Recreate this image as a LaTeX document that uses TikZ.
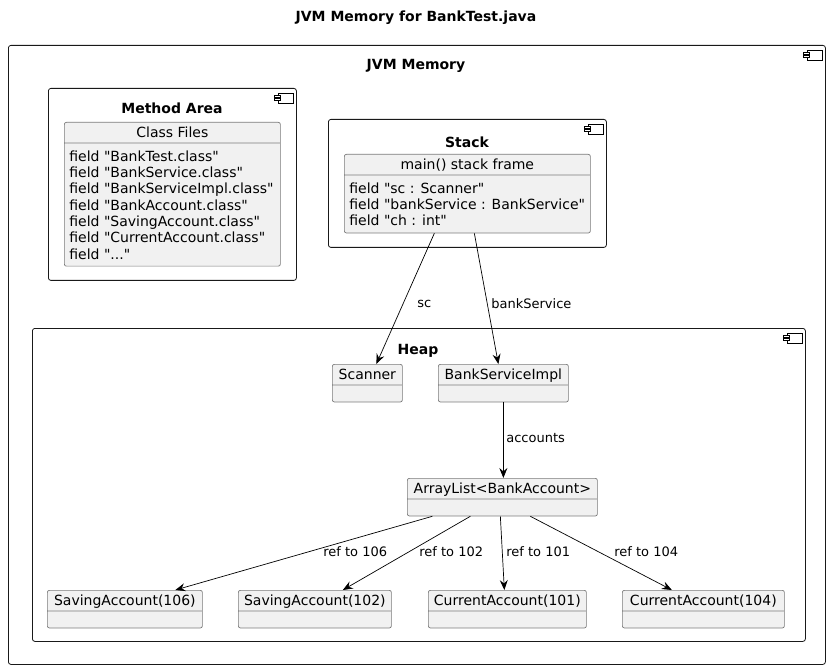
\documentclass[tikz,border=0pt]{standalone}
\usepackage{fontspec}
\setmainfont{DejaVu Sans}[Ligatures=TeXOff]
\usetikzlibrary{shapes.multipart}
\usetikzlibrary{arrows.meta}
\usetikzlibrary{positioning}

\definecolor{objfill}{HTML}{F1F1F1}
\definecolor{objline}{HTML}{7A7A7A}

\begin{document}
\begin{tikzpicture}[x=1pt,y=-1pt,
    container/.style={draw=black!90,line width=0.8pt,rounded corners=2.5pt,anchor=north west,inner sep=0pt},
    boxtitle/.style={font=\fontsize{14}{16}\selectfont\bfseries},
    object/.style={rectangle split,rectangle split parts=2,draw=objline,fill=objfill,
      line width=0.7pt,rounded corners=2pt,font=\fontsize{14}{16.3}\selectfont,align=left,
      inner xsep=5pt,inner ysep=1.85pt,anchor=north west,
      rectangle split part align={center,left},
      rectangle split empty part height=8.5pt,rectangle split empty part depth=4pt},
    ref/.style={-{Stealth[length=10pt,width=8pt,inset=3.5pt]},line width=0.7pt},
    elabel/.style={font=\fontsize{13}{15}\selectfont,anchor=west,inner sep=1pt},
    compicon/.pic={
      \draw[line width=0.6pt] (-19,5) rectangle (-4,15);
      \filldraw[fill=white,line width=0.6pt] (-22.5,7) rectangle (-16.5,9);
      \filldraw[fill=white,line width=0.6pt] (-22.5,10.7) rectangle (-16.5,12.7);
    }]
    \useasboundingbox (0,0) rectangle (833,671);
    \newcommand{\headstrut}{\rule[-3pt]{0pt}{16.3pt}}
    \newcommand{\toprule}{\rule{0pt}{16pt}}

    \node[boxtitle] (title) at (416,18) {JVM Memory for BankTest.java};

    % containers
    \node[container,minimum width=817pt,minimum height=619pt] (jvm) at (8,45) {};
    \node[container,minimum width=248pt,minimum height=192pt] (method) at (48,88) {};
    \node[container,minimum width=278pt,minimum height=128pt] (stack) at (328,119) {};
    \node[container,minimum width=773pt,minimum height=313pt] (heap) at (32,328) {};
    \foreach \c in {jvm,method,stack,heap}
      \pic at (\c.north east) {compicon};

    \node[boxtitle] (jvmtitle) at (416,66) {JVM Memory};
    \node[boxtitle] (methodtitle) at (172,108) {Method Area};
    \node[boxtitle] (stacktitle) at (467,142) {Stack};
    \node[boxtitle] (heaptitle) at (418,351) {Heap};

    % method area
    \node[object,minimum width=216pt] (classes) at (64,122) {\headstrut Class Files
      \nodepart{two}\toprule field "BankTest.class"\\field "BankService.class"\\
      field "BankServiceImpl.class"\\field "BankAccount.class"\\
      field "SavingAccount.class"\\field "CurrentAccount.class"\\field "..."\strut};

    % stack
    \node[object,minimum width=246pt] (frame) at (344,154) {\headstrut main() stack frame
      \nodepart{two}\toprule field "sc : Scanner"\\field "bankService : BankService"\\
      field "ch : int"\strut};

    % heap
    \node[object,minimum width=70pt] (scanner) at (332,364) {\headstrut Scanner\nodepart{two}};
    \node[object,minimum width=130pt] (impl) at (438,364) {\headstrut BankServiceImpl\nodepart{two}};
    \node[object,minimum width=190pt] (list) at (407,478) {\headstrut ArrayList<BankAccount>\nodepart{two}};
    \foreach \i/\nx/\w/\name in {1/47/155/{SavingAccount(106)},2/238/153/{SavingAccount(102)},
        3/428/158/{CurrentAccount(101)},4/622/162/{CurrentAccount(104)}}
      \node[object,minimum width=\w pt] (acc\i) at (\nx,590) {\headstrut\name\nodepart{two}};

    % references
    \draw[ref] ([xshift=-33pt]frame.south) -- ([xshift=9pt]scanner.north)
      node[elabel] at (416,304) {sc};
    \draw[ref] ([xshift=7pt]frame.south) -- ([xshift=-5pt]impl.north)
      node[elabel] at (490,304) {bankService};
    \draw[ref] (impl.south) -- (impl.south |- list.north)
      node[elabel] at (505,438) {accounts};
    \foreach \i/\sx/\ex/\lx/\id in {1/-70/50.5/322/106,2/-32/28/418/102,
        3/-2/-3/505/101,4/28/-31.5/613/104}
      \draw[ref] ([xshift=\sx pt]list.south) -- ([xshift=\ex pt]acc\i.north)
        node[elabel] at (\lx,552) {ref to \id};
\end{tikzpicture}
\end{document}
